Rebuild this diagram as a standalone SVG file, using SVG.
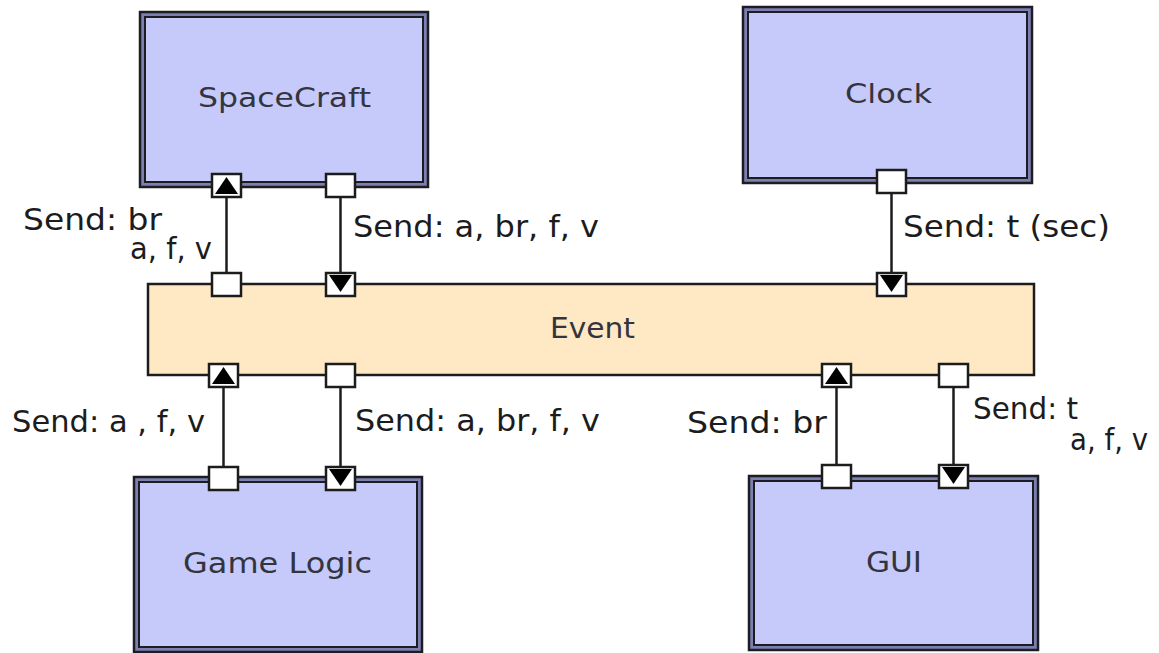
<svg xmlns="http://www.w3.org/2000/svg" width="1159" height="653" viewBox="0 0 1159 653">
<style>
.outer{fill:#7c80b0;stroke:#1c1c22;stroke-width:2.5}
.inner{fill:#c5cafa;stroke:#1c1c22;stroke-width:2}
.event{fill:#ffe8c4;stroke:#1c1c1c;stroke-width:2.5}
.port{fill:#fff;stroke:#1c1c1c;stroke-width:2.5}
.line{stroke:#1c1c1c;stroke-width:2.5;fill:none}
.tri{fill:#000}
.nlabel{font-family:"DejaVu Sans",Verdana,sans-serif;fill:#34343f}
.slabel{font-family:"DejaVu Sans",Verdana,sans-serif;font-size:30px;fill:#1c1c1c}
</style>
<rect width="1159" height="653" fill="#fff"/>
<g id="event">
<rect class="event" x="148" y="284" width="886" height="91"/>
<text class="nlabel" x="550" y="338" font-size="29" textLength="85" lengthAdjust="spacingAndGlyphs">Event</text>
<rect class="port" x="212" y="273" width="29" height="23"/>
<rect class="port" x="326" y="273" width="29" height="23"/>
<rect class="port" x="877" y="273" width="29" height="23"/>
<rect class="port" x="209" y="364" width="29" height="23"/>
<rect class="port" x="326" y="364" width="29" height="23"/>
<rect class="port" x="822" y="364" width="29" height="23"/>
<rect class="port" x="939" y="364" width="29" height="23"/>
</g>
<g id="spacecraft">
<rect class="outer" x="140" y="12" width="288" height="175"/>
<rect class="inner" x="145" y="17" width="278" height="165"/>
<text class="nlabel" x="198" y="107" font-size="27" textLength="173" lengthAdjust="spacingAndGlyphs">SpaceCraft</text>
<rect class="port" x="212" y="174" width="29" height="23"/>
<rect class="port" x="326" y="174" width="29" height="23"/>
</g>
<g id="clock">
<rect class="outer" x="743" y="7" width="289" height="176"/>
<rect class="inner" x="748" y="12" width="279" height="166"/>
<text class="nlabel" x="845" y="103" font-size="27" textLength="87" lengthAdjust="spacingAndGlyphs">Clock</text>
<rect class="port" x="877" y="170" width="29" height="23"/>
</g>
<g id="gamelogic">
<rect class="outer" x="134" y="477" width="288" height="175"/>
<rect class="inner" x="139" y="482" width="278" height="165"/>
<text class="nlabel" x="183" y="573" font-size="28" textLength="189" lengthAdjust="spacingAndGlyphs">Game Logic</text>
<rect class="port" x="209" y="467" width="29" height="23"/>
<rect class="port" x="326" y="467" width="29" height="23"/>
</g>
<g id="gui">
<rect class="outer" x="749" y="476" width="289" height="174"/>
<rect class="inner" x="754" y="481" width="279" height="164"/>
<text class="nlabel" x="866" y="572" font-size="28" textLength="56" lengthAdjust="spacingAndGlyphs">GUI</text>
<rect class="port" x="822" y="465" width="29" height="23"/>
<rect class="port" x="939" y="465" width="29" height="23"/>
</g>
<g id="connectors">
<line class="line" x1="226.5" y1="197" x2="226.5" y2="273"/>
<line class="line" x1="340.5" y1="197" x2="340.5" y2="273"/>
<line class="line" x1="891.5" y1="193" x2="891.5" y2="273"/>
<line class="line" x1="223.5" y1="387" x2="223.5" y2="467"/>
<line class="line" x1="340.5" y1="387" x2="340.5" y2="467"/>
<line class="line" x1="836.5" y1="387" x2="836.5" y2="465"/>
<line class="line" x1="953.5" y1="387" x2="953.5" y2="465"/>
<polygon class="tri" points="215,194 238,194 226.5,177"/>
<polygon class="tri" points="329,275 352,275 340.5,292"/>
<polygon class="tri" points="880,275 903,275 891.5,292"/>
<polygon class="tri" points="212,384 235,384 223.5,367"/>
<polygon class="tri" points="329,469 352,469 340.5,486"/>
<polygon class="tri" points="825,384 848,384 836.5,367"/>
<polygon class="tri" points="942,467 965,467 953.5,484"/>
<text class="slabel" x="23" y="230" textLength="139" lengthAdjust="spacingAndGlyphs">Send: br</text>
<text class="slabel" x="130" y="259" textLength="82" lengthAdjust="spacingAndGlyphs">a, f, v</text>
<text class="slabel" x="353" y="237" textLength="246" lengthAdjust="spacingAndGlyphs">Send: a, br, f, v</text>
<text class="slabel" x="903" y="237" textLength="207" lengthAdjust="spacingAndGlyphs">Send: t (sec)</text>
<text class="slabel" x="12" y="432" textLength="193" lengthAdjust="spacingAndGlyphs">Send: a , f, v</text>
<text class="slabel" x="355" y="431" textLength="245" lengthAdjust="spacingAndGlyphs">Send: a, br, f, v</text>
<text class="slabel" x="687" y="433" textLength="140" lengthAdjust="spacingAndGlyphs">Send: br</text>
<text class="slabel" x="973" y="419" textLength="105" lengthAdjust="spacingAndGlyphs">Send: t</text>
<text class="slabel" x="1070" y="450" textLength="78" lengthAdjust="spacingAndGlyphs">a, f, v</text>
</g>
</svg>
